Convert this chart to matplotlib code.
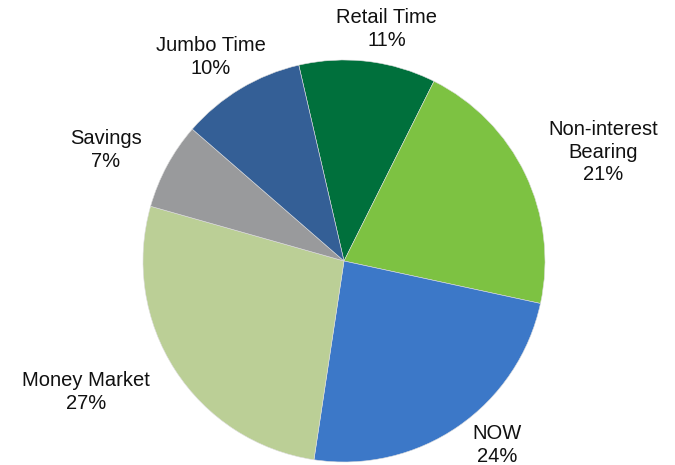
import matplotlib.pyplot as plt

plt.rcParams['font.family'] = ['Liberation Sans', 'DejaVu Sans']

labels = ['Retail Time', 'Non-interest\nBearing', 'NOW', 'Money Market', 'Savings', 'Jumbo Time']
shares = [11, 21, 24, 27, 7, 10]
colors = ['#00703C', '#7DC242', '#3C78C8', '#BBCF96', '#999A9C', '#345F96']

# label block centres in pixels (x from left, y from top)
label_px = [(387, 29), (603, 152), (497, 445), (86, 392), (106, 150), (211, 57)]

W, H = 675, 465
fig = plt.figure(figsize=(W / 100, H / 100), dpi=100)
cx, cy, r = 344, 261, 201
ax = fig.add_axes([(cx - r) / W, (H - cy - r) / H, 2 * r / W, 2 * r / H])

ax.pie(shares, colors=colors, startangle=103.0, counterclock=False,
       wedgeprops=dict(linewidth=0.4, edgecolor='#dddddd'))
ax.set_xlim(-1, 1)
ax.set_ylim(-1, 1)
ax.set_aspect('equal')
ax.axis('off')

for lab, val, (px, py) in zip(labels, shares, label_px):
    fig.text(px / W, 1 - py / H, f'{lab}\n{val}%', ha='center', va='center',
             fontsize=14.5, linespacing=1.22, color='#111111')

fig.savefig('out.png', dpi=100)
